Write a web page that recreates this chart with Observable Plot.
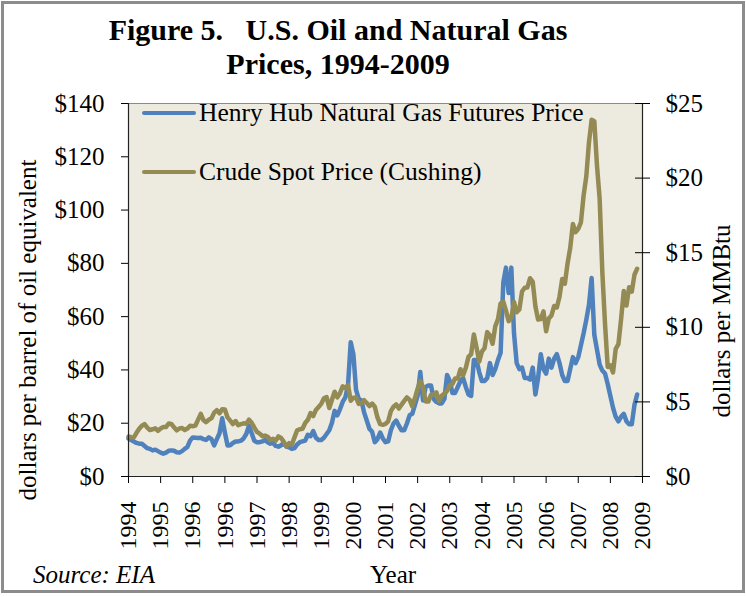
<!DOCTYPE html>
<html>
<head>
<meta charset="utf-8">
<script src="https://cdn.jsdelivr.net/npm/d3@7"></script>
<script src="https://cdn.jsdelivr.net/npm/@observablehq/plot@0.6"></script>
<style>
  body { margin: 0; background: #fff; }
  #fig { position: relative; width: 746px; height: 597px; overflow: hidden; background: #fff;
         font-family: "Liberation Serif", "Times New Roman", serif; color: #000; }
  #border { position: absolute; left: 1px; top: 1px; width: 738px; height: 586px; border: 3px solid #8c8c8c; }
  #title { position: absolute; left: 0; top: 13px; width: 676px; text-align: center; font-weight: bold;
           font-size: 30px; line-height: 34px; white-space: pre; }
  #chart { position: absolute; left: 0; top: 85px; }
  .leg { position: absolute; left: 142px; height: 30px; display: flex; align-items: center; font-size: 25.5px; white-space: nowrap; }
  .sw { width: 54px; height: 4.5px; border-radius: 2px; margin-right: 3px; }
  .rot { position: absolute; white-space: nowrap; font-size: 25px; transform: translate(-50%, -50%) rotate(-90deg); }
  .foot { position: absolute; font-size: 25px; white-space: nowrap; line-height: 30px; }
</style>
</head>
<body>
<div id="fig">
  <div id="border"></div>
  <div id="title">Figure 5.   U.S. Oil and Natural Gas
Prices, 1994-2009</div>
  <div id="chart"></div>
  <div class="leg" style="top:98px"><div class="sw" style="background:#4F81BD"></div><span>Henry Hub Natural Gas Futures Price</span></div>
  <div class="leg" style="top:157px"><div class="sw" style="background:#948A54"></div><span>Crude Spot Price (Cushing)</span></div>
  <div class="rot" style="left:28px; top:330px">dollars per barrel of oil equivalent</div>
  <div class="rot" style="left:722px; top:321px">dollars per MMBtu</div>
  <div class="foot" style="left:33px; top:560px; font-style:italic">Source: EIA</div>
  <div class="foot" style="left:370px; top:560px">Year</div>
</div>
<script>
// Monthly values, January 1994 onward
const startYear = 1994;

// Crude oil spot price, Cushing (dollars per barrel)
const oilPrice = [
  15.03, 14.78, 14.66, 16.38, 17.89, 19.06, 19.66, 18.38, 17.45, 17.72, 18.07, 17.16,
  18.04, 18.57, 18.54, 19.90, 19.74, 18.45, 17.33, 18.02, 18.23, 17.43, 17.99, 19.03,
  18.86, 19.09, 21.33, 23.50, 21.17, 20.42, 21.30, 21.90, 23.97, 24.88, 23.71, 25.23,
  25.13, 22.18, 20.97, 19.70, 20.82, 19.26, 19.66, 19.95, 19.80, 21.33, 20.19, 18.33,
  16.72, 16.06, 15.12, 15.35, 14.91, 13.72, 14.17, 13.47, 15.03, 14.46, 13.00, 11.35,
  12.52, 12.01, 14.68, 17.31, 17.72, 17.92, 20.10, 21.28, 23.80, 22.69, 25.00, 26.10,
  27.26, 29.37, 29.84, 25.72, 28.79, 31.82, 29.70, 31.26, 33.88, 33.11, 34.42, 28.44,
  29.59, 29.61, 27.25, 27.49, 28.63, 27.60, 26.43, 27.37, 26.20, 22.17, 19.64, 19.39,
  19.72, 20.72, 24.53, 26.18, 27.04, 25.52, 26.97, 28.39, 29.66, 28.84, 26.35, 29.46,
  32.95, 35.83, 33.51, 28.17, 28.11, 30.66, 30.75, 31.57, 28.31, 30.34, 31.11, 32.13,
  34.31, 34.69, 36.74, 36.75, 40.28, 38.03, 40.78, 44.90, 45.94, 53.28, 48.47, 43.15,
  46.84, 48.15, 54.19, 52.98, 49.83, 56.35, 59.00, 64.99, 65.59, 62.26, 58.32, 59.41,
  65.49, 61.63, 62.69, 69.44, 70.84, 70.95, 74.41, 73.04, 63.80, 58.89, 59.08, 61.96,
  54.51, 59.28, 60.44, 63.98, 63.46, 67.49, 74.12, 72.36, 79.92, 85.80, 94.77, 91.69,
  92.97, 95.39, 105.45, 112.58, 125.40, 133.88, 133.37, 116.67, 104.11, 76.61, 57.31, 41.12,
  41.71, 39.09, 47.94, 49.65, 59.03, 69.64, 64.15, 71.05, 69.41, 75.72, 77.99
];

// Henry Hub natural gas futures price (dollars per MMBtu)
const gasPrice = [
  2.55, 2.45, 2.35, 2.25, 2.20, 2.20, 2.05, 1.90, 1.85, 1.75, 1.80, 1.70,
  1.60, 1.53, 1.60, 1.72, 1.75, 1.72, 1.62, 1.60, 1.70, 1.85, 1.98, 2.40,
  2.62, 2.60, 2.58, 2.60, 2.50, 2.45, 2.62, 2.50, 2.08, 2.50, 2.90, 3.90,
  2.95, 2.08, 2.10, 2.25, 2.35, 2.35, 2.40, 2.55, 2.85, 3.40, 2.90, 2.40,
  2.30, 2.30, 2.35, 2.45, 2.30, 2.20, 2.25, 2.05, 2.00, 2.10, 2.25, 2.00,
  1.95, 1.85, 1.90, 2.15, 2.30, 2.35, 2.40, 2.80, 2.70, 3.05, 2.60, 2.45,
  2.45, 2.60, 2.85, 3.10, 3.60, 4.40, 4.10, 4.50, 5.00, 5.30, 6.10, 9.00,
  8.20, 5.80, 5.20, 5.10, 4.30, 3.75, 3.20, 3.00, 2.30, 2.50, 2.95, 2.55,
  2.30, 2.35, 3.10, 3.55, 3.75, 3.40, 3.10, 3.10, 3.55, 4.10, 4.20, 4.80,
  5.40, 7.00, 5.10, 6.00, 6.10, 6.10, 5.20, 5.00, 4.90, 4.90, 5.20, 6.80,
  6.40, 5.60, 5.60, 6.00, 6.40, 6.60, 6.00, 5.50, 5.40, 7.80, 7.80, 7.00,
  6.40, 6.40, 6.60, 7.60, 6.80, 7.20, 7.80, 8.30, 13.00, 14.00, 12.30, 14.00,
  9.60, 7.60, 7.20, 7.30, 6.60, 6.60, 6.50, 7.30, 5.50, 6.60, 8.20, 7.20,
  6.90, 7.90, 7.30, 7.90, 8.20, 7.60, 6.80, 6.40, 6.40, 7.20, 8.00, 7.60,
  8.00, 8.80, 9.60, 10.50, 11.50, 13.30, 9.50, 8.50, 7.50, 7.10, 6.90, 6.20,
  5.40, 4.60, 4.00, 3.70, 4.00, 4.20, 3.70, 3.50, 3.50, 4.80, 5.50
];

// Axis tick labels as printed on the original
const xTickLabels = ["1994","1995","1996","1996","1997","1998","1999","2000","2001",
                     "2002","2003","2004","2005","2006","2007","2008","2009"];
const leftTicks = [0, 20, 40, 60, 80, 100, 120, 140];      // $ per barrel
const rightTicks = [0, 5, 10, 15, 20, 25];                  // $ per MMBtu

const leftMax = 140, rightMax = 25;
const K = leftMax / rightMax; // MMBtu axis mapped onto barrel axis
const blue = "#4F81BD", olive = "#948A54";

const rows = oilPrice.map((v, i) => ({m: i, oil: v, gas: gasPrice[i]}));
const xTickPos = xTickLabels.map((_, i) => i * 12);

const chart = Plot.plot({
  width: 746,
  height: 470,
  marginLeft: 128,
  marginRight: 104,
  marginTop: 18,
  marginBottom: 79,
  style: {fontFamily: "'Liberation Serif', 'Times New Roman', serif", fontSize: "25px", color: "#000", background: "transparent", overflow: "visible"},
  x: {domain: [0, (xTickLabels.length - 1) * 12]},
  y: {domain: [0, leftMax]},
  marks: [
    Plot.frame({fill: "#EDEAE0", stroke: "#8a8a8a", strokeWidth: 1}),
    Plot.line(rows, {x: "m", y: d => d.gas * K, stroke: blue, strokeWidth: 4.5, strokeLinejoin: "round", strokeLinecap: "round"}),
    Plot.line(rows, {x: "m", y: "oil", stroke: olive, strokeWidth: 4.5, strokeLinejoin: "round", strokeLinecap: "round"}),
    Plot.ruleX([0, (xTickLabels.length - 1) * 12], {stroke: "#222", strokeWidth: 1.2}),
    Plot.ruleY([0], {stroke: "#222", strokeWidth: 1.2}),
    Plot.axisY(leftTicks, {anchor: "left", tickSize: 7, tickPadding: 17, tickFormat: d => "$" + d, label: null, fontSize: 25}),
    Plot.axisY(rightTicks.map(v => v * K), {anchor: "right", tickSize: 7, tickPadding: 16, tickFormat: d => "$" + Math.round(d / K), label: null, fontSize: 25}),
    Plot.axisY(rightTicks.map(v => v * K), {anchor: "right", tickSize: -8, tickFormat: () => "", label: null}),
    Plot.axisX(xTickPos, {anchor: "bottom", tickSize: 7, tickPadding: 18, tickRotate: -90, tickFormat: d => xTickLabels[Math.round(d / 12)], label: null, fontSize: 24})
  ]
});
document.getElementById("chart").appendChild(chart);
</script>
</body>
</html>
